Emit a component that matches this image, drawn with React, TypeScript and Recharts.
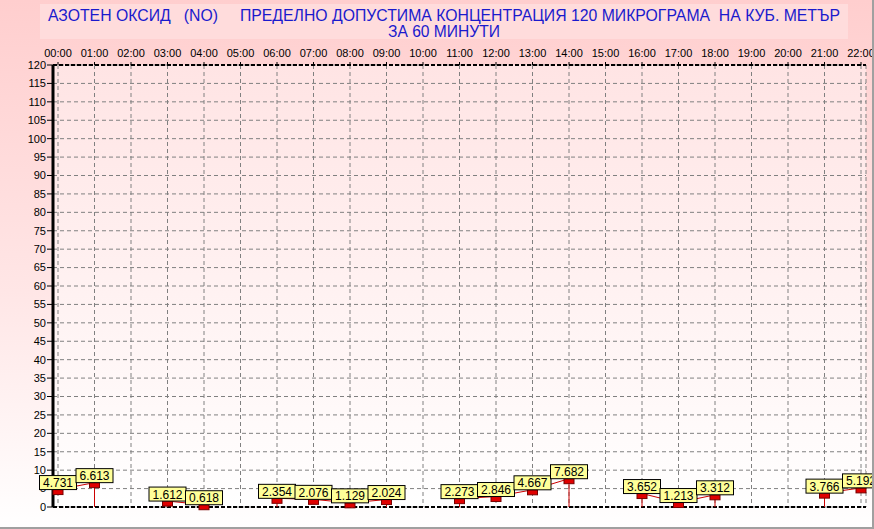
import {
	CartesianGrid,
	ComposedChart,
	LabelList,
	Line,
	ReferenceLine,
	XAxis,
	YAxis,
} from "recharts";

const hours = [
	0, 1, 2, 3, 4, 5, 6, 7, 8, 9, 10, 11, 12, 13, 14, 15, 16, 17, 18, 19, 20, 21,
	22,
];
const noValues: (number | null)[] = [
	4.731, 6.613, null, 1.612, 0.618, null, 2.354, 2.076, 1.129, 2.024, null,
	2.273, 2.846, 4.667, 7.682, null, 3.652, 1.213, 3.312, null, null, 3.766,
	5.192,
];
const yTicks = [
	0, 5, 10, 15, 20, 25, 30, 35, 40, 45, 50, 55, 60, 65, 70, 75, 80, 85, 90, 95,
	100, 105, 110, 115, 120,
];
const hourLabels = hours.map((h) => `${String(h).padStart(2, "0")}:00`);

const titleLine1 =
	"АЗОТЕН ОКСИД   (NO)     ПРЕДЕЛНО ДОПУСТИМА КОНЦЕНТРАЦИЯ 120 МИКРОГРАМА  НА КУБ. МЕТЪР";
const titleLine2 = "ЗА 60 МИНУТИ";

const data = hours.map((h, i) => ({ hour: h, value: noValues[i] }));

// drop lines to zero where the series breaks
const dropHours = hours.filter((h, i) => {
	if (noValues[i] == null) return false;
	const prev = i > 0 ? noValues[i - 1] : 0;
	const next = i < noValues.length - 1 ? noValues[i + 1] : 0;
	return prev === null || next === null;
});

const font = "'Liberation Sans', Arial, sans-serif";

const Marker = (p: any) => {
	if (p.value == null || p.cx == null) return <g key={p.index} />;
	return (
		<rect
			key={p.index}
			x={p.cx - 5}
			y={p.cy}
			width={10}
			height={5}
			fill="#e00000"
			stroke="#780000"
			strokeWidth={1}
		/>
	);
};

const ValueBox = (p: any) => {
	const { x, y, value } = p;
	if (value == null || x == null) return null;
	const w = 37;
	const h = 14;
	return (
		<g>
			<rect
				x={x - w / 2}
				y={y - h}
				width={w}
				height={h}
				fill="#ffff99"
				stroke="#000"
				strokeWidth={1}
			/>
			<text
				x={x}
				y={y - 2.5}
				textAnchor="middle"
				fontSize={12}
				fontFamily={font}
				fill="#000"
			>
				{Number(value).toFixed(3)}
			</text>
		</g>
	);
};

export default function App() {
	return (
		<div
			style={{
				position: "absolute",
				left: 0,
				top: 0,
				width: 874,
				height: 529,
				background: "linear-gradient(to bottom, #ffcece 0%, #ffe6e6 55%, #ffffff 100%)",
				fontFamily: font,
			}}
		>
			<svg
				width={874}
				height={45}
				style={{ position: "absolute", left: 0, top: 0 }}
			>
				<defs>
					<linearGradient id="plotBg" x1="0" y1="0" x2="0" y2="1">
						<stop offset="0%" stopColor="#ffe4e4" />
						<stop offset="100%" stopColor="#ffffff" />
					</linearGradient>
				</defs>
				<rect x={40} y={4} width={808} height={35} fill="#ffdcdc" />
				<text
					x={48}
					y={21}
					fontSize={17}
					fill="#1a1acd"
					fontFamily={font}
					textLength={792}
					lengthAdjust="spacingAndGlyphs"
					style={{ whiteSpace: "pre" }}
				>
					{titleLine1}
				</text>
				<text
					x={388}
					y={37}
					fontSize={16}
					fill="#1a1acd"
					fontFamily={font}
					textLength={112}
					lengthAdjust="spacingAndGlyphs"
				>
					{titleLine2}
				</text>
			</svg>
			<div style={{ position: "absolute", left: 0, top: 0 }}>
				<ComposedChart
					width={874}
					height={529}
					data={data}
					margin={{ top: 45, right: 8, left: 0, bottom: 22 }}
				>
					<CartesianGrid
						stroke="#808080"
						strokeDasharray="4 3"
						fill="url(#plotBg)"
					/>
					<XAxis
						dataKey="hour"
						type="number"
						orientation="top"
						domain={[0, 22]}
						ticks={hours}
						interval={0}
						padding={{ left: 5, right: 5 }}
						height={20}
						tickSize={3}
						tickMargin={5}
						tickFormatter={(h: number) => hourLabels[h]}
						tick={{ fontSize: 11, fill: "#000", fontFamily: font }}
						tickLine={{ stroke: "#000" }}
						axisLine={{ stroke: "#000", strokeWidth: 2, strokeDasharray: "4 2" }}
					/>
					<YAxis
						domain={[0, 120]}
						ticks={yTicks}
						interval={0}
						width={53}
						tickSize={6}
						tickMargin={1}
						tick={{ fontSize: 11, fill: "#000", fontFamily: font }}
						tickLine={{ stroke: "#000" }}
						axisLine={{ stroke: "#000", strokeWidth: 3 }}
					/>
					<YAxis
						yAxisId="right"
						orientation="right"
						domain={[0, 120]}
						width={0}
						tick={false}
						tickLine={false}
						axisLine={{ stroke: "#000", strokeWidth: 2 }}
					/>
					<ReferenceLine
						y={0}
						stroke="#000"
						strokeWidth={2}
						strokeDasharray="4 2"
					/>
					{dropHours.map((h) => (
						<ReferenceLine
							key={h}
							segment={[
								{ x: h, y: 0 },
								{ x: h, y: noValues[h] as number },
							]}
							stroke="#cc0000"
							strokeWidth={1}
						/>
					))}
					<Line
						dataKey="value"
						stroke="#cc0000"
						strokeWidth={1}
						dot={Marker}
						activeDot={false}
						connectNulls={false}
						isAnimationActive={false}
					>
						<LabelList dataKey="value" content={ValueBox} />
					</Line>
				</ComposedChart>
			</div>
			<div
				style={{
					position: "absolute",
					left: 0,
					top: 0,
					width: 874,
					height: 529,
					boxSizing: "border-box",
					borderRight: "2px solid #a0a0a0",
					borderBottom: "2px solid #a0a0a0",
					pointerEvents: "none",
				}}
			/>
		</div>
	);
}
